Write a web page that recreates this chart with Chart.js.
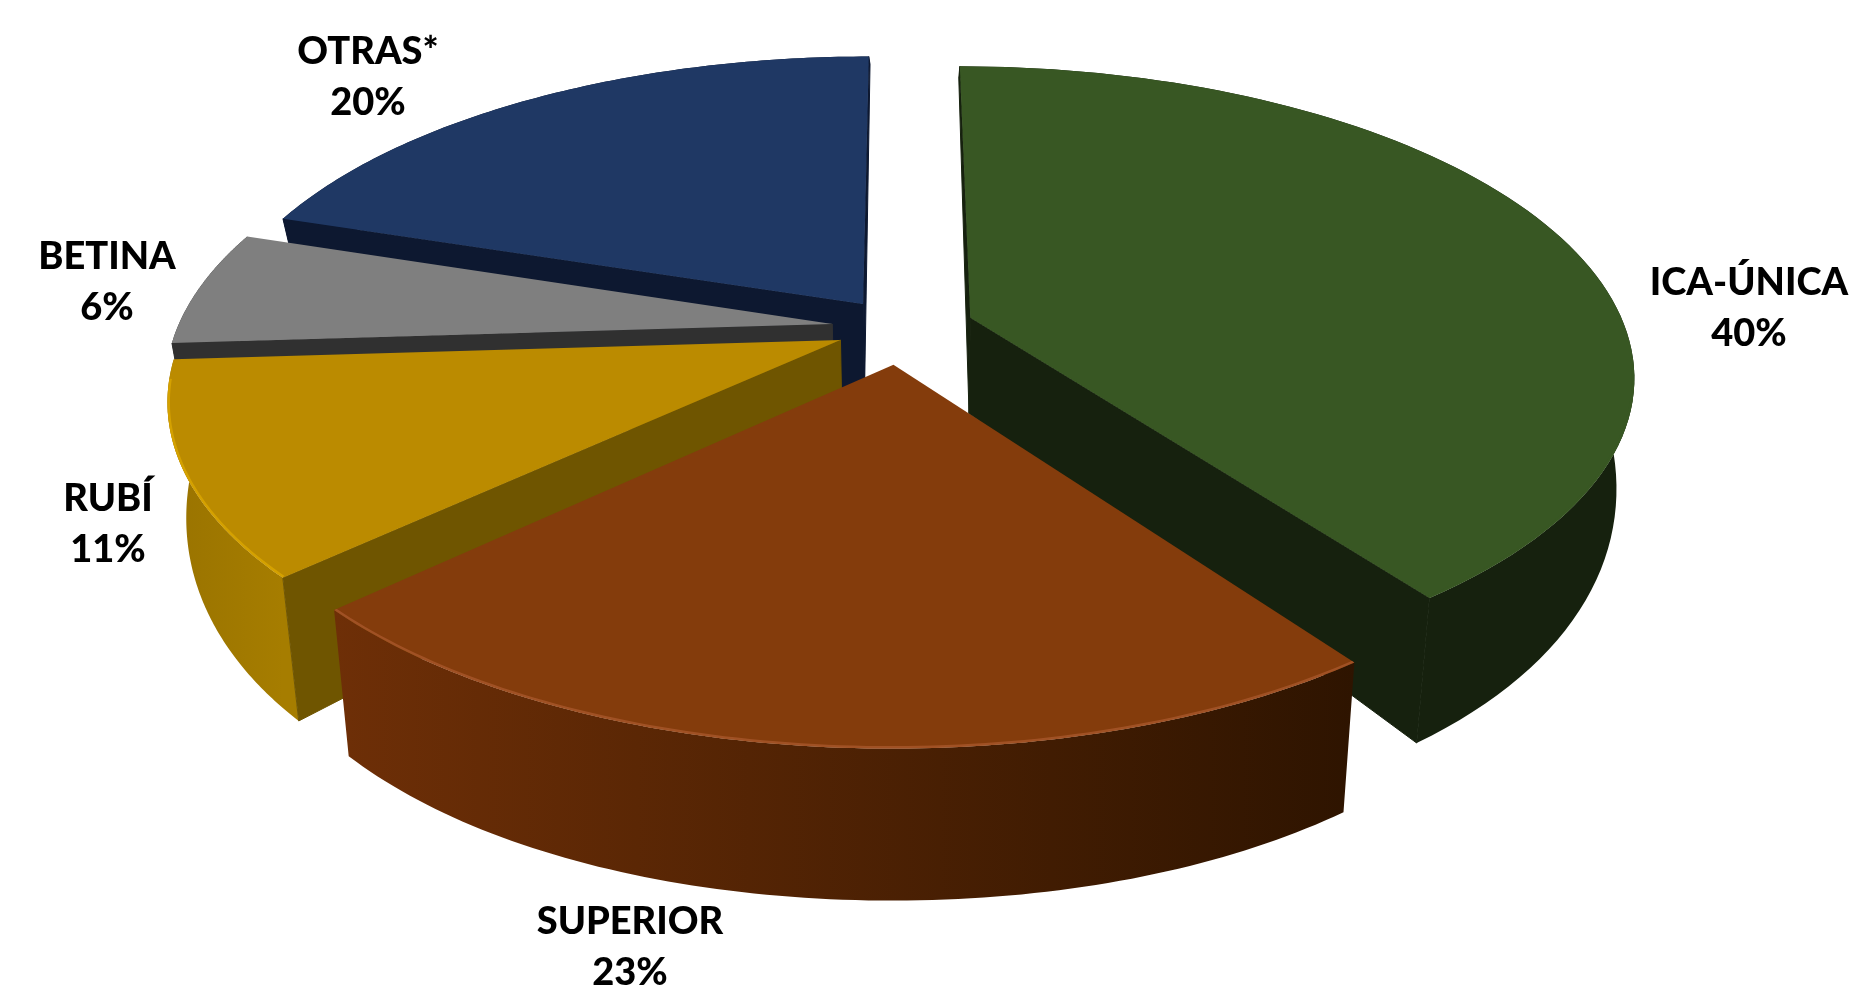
<!DOCTYPE html>
<html>
<head>
<meta charset="utf-8">
<title>Variedades</title>
<script src="https://cdn.jsdelivr.net/npm/chart.js@4"></script>
<style>
  html, body { margin: 0; padding: 0; background: #fff; overflow: hidden; }
  #wrap { width: 1859px; height: 999px; }
  #myChart { filter: blur(0.6px); }
</style>
</head>
<body>
<div id="wrap"><canvas id="myChart"></canvas></div>
<script>
// data
const labels = ["ICA-ÚNICA", "SUPERIOR", "RUBÍ", "BETINA", "OTRAS*"];
const values = [40, 23, 11, 6, 20];
const explode = [56, 60, 50, 53, 50];

// colours
const topColors = ["#385723", "#843c0c", "#bb8b00", "#7f7f7f", "#1f3864"];
const cutColors = ["#16210e", "#2e1400", "#6f5500", "#303030", "#0d1830"];
const wallLeft = ["#16210e", "#6e2f07", "#997300", "#303030", "#0d1830"];
const wallRight = ["#16210e", "#2e1400", "#a67d00", "#303030", "#0d1830"];
const rimColors = ["#385723", "#a8562a", "#dba600", "#7f7f7f", "#1f3864"];

// back to front
const paintOrder = [4, 3, 2, 0, 1];

// label centres, px
const labelSpots = [[1749, 308], [630, 947], [108, 524], [107, 282], [368, 77]];

// camera for the tilted pie
const view = { cx: 901, cy: 328, rx: 655, ry: 300, k: 0.18, vx: 919, shrink: 0.975 };

function project(u, v) {
  const w = 1 - view.k * v;
  return { x: view.cx + view.rx * u / w, y: view.cy + view.ry * v / w };
}

function drop(p) {
  const back = Math.max(0, 750 - p.y);
  return { x: view.vx + (p.x - view.vx) * view.shrink, y: p.y + 152 - 0.0003 * back * back };
}

function tracePath(ctx, pts) {
  pts.forEach((p, i) => (i ? ctx.lineTo(p.x, p.y) : ctx.moveTo(p.x, p.y)));
}

function drawSlice(ctx, arc, i) {
  const props = arc.getProps(["startAngle", "endAngle", "outerRadius"], true);
  const mid = (props.startAngle + props.endAngle) / 2;
  const off = arc.options.offset / props.outerRadius;
  const ou = off * Math.cos(mid);
  const ov = off * Math.sin(mid);
  const apex = project(ou, ov);

  const rim = [];
  const steps = 90;
  for (let s = 0; s <= steps; s++) {
    const a = props.startAngle + (props.endAngle - props.startAngle) * s / steps;
    rim.push(project(ou + Math.cos(a), ov + Math.sin(a)));
  }
  const rimLow = rim.map(drop);

  // outer wall
  const xs = rim.map((p) => p.x);
  const grad = ctx.createLinearGradient(Math.min(...xs), 0, Math.max(...xs), 0);
  grad.addColorStop(0, wallLeft[i]);
  grad.addColorStop(1, wallRight[i]);
  ctx.fillStyle = grad;
  ctx.beginPath();
  tracePath(ctx, rim.concat(rimLow.slice().reverse()));
  ctx.closePath();
  ctx.fill();

  // cut faces, only the ones looking at the viewer
  const middle = rim[Math.floor(steps / 2)];
  [rim[0], rim[steps]].forEach((corner) => {
    const ex = corner.x - apex.x;
    const ey = corner.y - apex.y;
    const sideInner = ex * (middle.y - apex.y) - ey * (middle.x - apex.x);
    if (sideInner * ex >= 0) return;
    ctx.fillStyle = cutColors[i];
    ctx.strokeStyle = cutColors[i];
    ctx.lineWidth = 1;
    ctx.beginPath();
    tracePath(ctx, [apex, corner, drop(corner), drop(apex)]);
    ctx.closePath();
    ctx.fill();
    ctx.stroke();
  });

  // top face
  ctx.save();
  ctx.fillStyle = topColors[i];
  ctx.beginPath();
  tracePath(ctx, [apex].concat(rim));
  ctx.closePath();
  ctx.fill();
  ctx.clip();

  // soft light along the rim, inside the top face
  ctx.strokeStyle = rimColors[i];
  ctx.globalAlpha = 0.8;
  ctx.lineWidth = 5;
  ctx.beginPath();
  tracePath(ctx, rim.filter((p, n) => {
    const a = props.startAngle + (props.endAngle - props.startAngle) * n / steps;
    return Math.sin(a) > 0.12;
  }));
  ctx.stroke();
  ctx.restore();
}

const tiltedPie = {
  id: "tiltedPie",
  beforeDatasetsDraw(chart) {
    const ctx = chart.ctx;
    const arcs = chart.getDatasetMeta(0).data;
    ctx.save();
    paintOrder.forEach((i) => drawSlice(ctx, arcs[i], i));
    ctx.restore();
    return false;
  },
  afterDraw(chart) {
    const ctx = chart.ctx;
    ctx.save();
    ctx.fillStyle = "#000";
    ctx.textAlign = "center";
    ctx.textBaseline = "middle";
    ctx.font = "900 38px Lato";
    chart.data.labels.forEach((name, i) => {
      const [x, y] = labelSpots[i];
      ctx.fillText(name, x, y - 25);
      ctx.fillText(chart.data.datasets[0].data[i] + "%", x, y + 26);
    });
    ctx.restore();
  },
};

new Chart(document.getElementById("myChart"), {
  type: "pie",
  data: {
    labels,
    datasets: [{ data: values, backgroundColor: topColors, offset: explode, borderWidth: 0 }],
  },
  options: {
    responsive: true,
    maintainAspectRatio: false,
    animation: false,
    radius: 500,
    plugins: { legend: { display: false }, tooltip: { enabled: false } },
  },
  plugins: [tiltedPie],
});
</script>
</body>
</html>
